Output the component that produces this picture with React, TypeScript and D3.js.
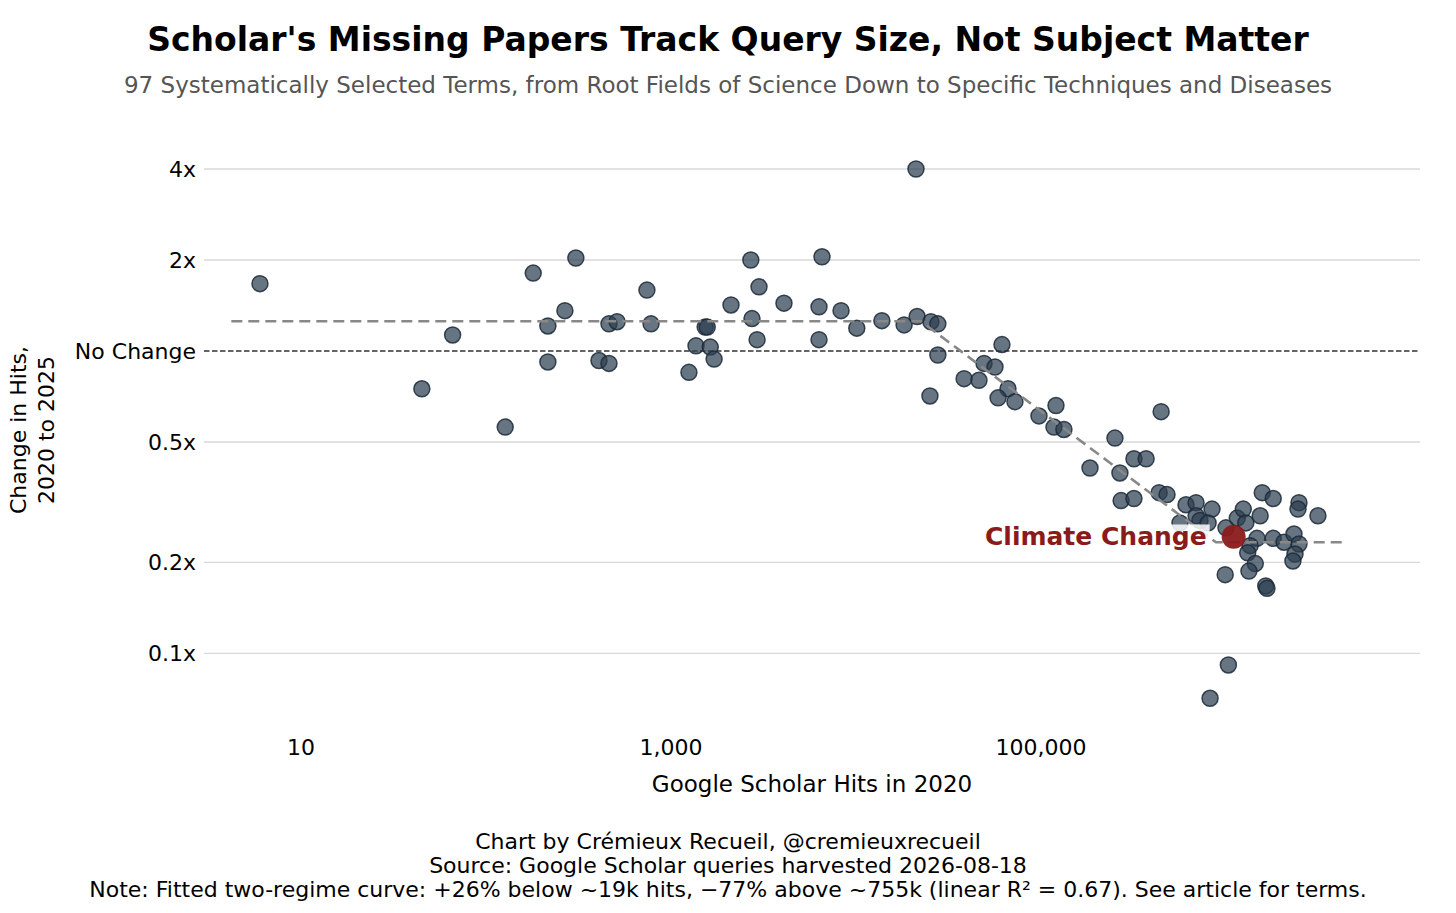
import React, { useRef, useEffect } from 'react'
import * as d3 from 'd3'

// Google Scholar hits in 2020 (x) and ratio of 2025 hits to 2020 hits (y)
const hits2020 = [
  6, 45, 66, 127, 180, 306, 267, 216, 216, 408,
  462, 462, 511, 741, 780, 1250, 1365, 1530, 1570, 1630,
  1710, 2110, 2700, 2740, 2920, 2990, 4080, 6310, 6310, 6550,
  8300, 10100, 13800, 18200, 21100, 21400, 25400, 27700, 27700, 25100,
  38400, 46200, 49200, 56400, 61500, 66300, 58600, 72300, 97500, 120500,
  117500, 133000, 184000, 251000, 267000, 271000, 318000, 318000, 370000, 446000,
  435000, 480000, 608000, 689000, 840000, 689000, 723000, 564000, 800000, 1000000,
  1150000, 1240000, 1280000, 1570000, 1800000, 1530000, 2480000, 2450000, 3140000, 1470000,
  1800000, 2060000, 2330000, 2480000, 2360000, 2300000, 1350000, 1310000, 1440000, 1330000,
  990000, 1640000, 1665000, 1030000, 820000,
]
const changeRatio = [
  1.67, 0.75, 1.13, 0.56, 1.81, 2.03, 1.36, 1.21, 0.92, 0.93,
  0.91, 1.23, 1.25, 1.59, 1.23, 0.85, 1.04, 1.2, 1.2, 1.03,
  0.94, 1.42, 2.0, 1.28, 1.09, 1.63, 1.44, 1.4, 1.09, 2.05,
  1.36, 1.19, 1.26, 1.22, 4.0, 1.3, 1.25, 1.23, 0.97, 0.71,
  0.81, 0.8, 0.91, 0.885, 1.05, 0.75, 0.7, 0.68, 0.61, 0.66,
  0.56, 0.55, 0.41, 0.515, 0.395, 0.32, 0.325, 0.44, 0.44, 0.63,
  0.34, 0.335, 0.31, 0.315, 0.3, 0.285, 0.275, 0.27, 0.27, 0.26,
  0.28, 0.3, 0.27, 0.34, 0.325, 0.285, 0.315, 0.3, 0.285, 0.24,
  0.24, 0.233, 0.248, 0.23, 0.213, 0.202, 0.227, 0.215, 0.198, 0.187,
  0.182, 0.167, 0.164, 0.0915, 0.071,
]

// highlighted term
const highlightLabel = 'Climate Change'
const highlightHits = 1100000
const highlightRatio = 0.243

// two-regime fit (as drawn)
const fitHits = [4.2, 22400, 883000, 4500000]
const fitRatio = [1.255, 1.255, 0.233, 0.233]

// ticks
const xTicks = [10, 1000, 100000]
const xTickLabels = ['10', '1,000', '100,000']
const yTicks = [0.1, 0.2, 0.5, 1, 2, 4]
const yTickLabels = ['0.1x', '0.2x', '0.5x', 'No Change', '2x', '4x']

const title = "Scholar's Missing Papers Track Query Size, Not Subject Matter"
const subtitle =
  '97 Systematically Selected Terms, from Root Fields of Science Down to Specific Techniques and Diseases'
const footerLines = [
  'Chart by Crémieux Recueil, @cremieuxrecueil',
  'Source: Google Scholar queries harvested 2026-08-18',
  'Note: Fitted two-regime curve: +26% below ~19k hits, \u221277% above ~755k (linear R\u00b2 = 0.67). See article for terms.',
]

const WIDTH = 1456
const HEIGHT = 913
const FONT = "'DejaVu Sans', sans-serif"

const App: React.FC = () => {
  const svgRef = useRef<SVGSVGElement>(null)

  useEffect(() => {
    if (!svgRef.current) return
    const svg = d3.select(svgRef.current)
    svg.selectAll('*').remove()

    const plotLeft = 204
    const plotRight = 1420

    // log scales anchored on the tick positions
    const x = d3.scaleLog().domain([10, 100000]).range([301, 1041])
    const y = d3.scaleLog().base(2).domain([1, 4]).range([351, 169])

    svg.append('rect').attr('width', WIDTH).attr('height', HEIGHT).attr('fill', '#fff')

    // title block
    svg
      .append('text')
      .attr('x', WIDTH / 2)
      .attr('y', 51)
      .attr('text-anchor', 'middle')
      .style('font-family', FONT)
      .style('font-weight', 'bold')
      .style('font-size', '33px')
      .style('fill', '#000')
      .text(title)

    svg
      .append('text')
      .attr('x', WIDTH / 2)
      .attr('y', 93)
      .attr('text-anchor', 'middle')
      .style('font-family', FONT)
      .style('font-size', '23px')
      .style('fill', '#555')
      .text(subtitle)

    // horizontal grid + y tick labels
    const g = svg.append('g')
    yTicks.forEach((t, i) => {
      if (t === 1) {
        g.append('line')
          .attr('x1', plotLeft)
          .attr('x2', plotRight)
          .attr('y1', y(t))
          .attr('y2', y(t))
          .attr('stroke', '#333')
          .attr('stroke-width', 1.6)
          .attr('stroke-dasharray', '5.5,2.5')
      } else {
        g.append('line')
          .attr('x1', plotLeft)
          .attr('x2', plotRight)
          .attr('y1', y(t))
          .attr('y2', y(t))
          .attr('stroke', '#d9d9d9')
          .attr('stroke-width', 1.3)
      }
      g.append('text')
        .attr('x', 196)
        .attr('y', y(t))
        .attr('dy', '0.35em')
        .attr('text-anchor', 'end')
        .style('font-family', FONT)
        .style('font-size', '22px')
        .style('fill', '#000')
        .text(yTickLabels[i])
    })

    // x tick labels (no tick marks)
    xTicks.forEach((t, i) => {
      g.append('text')
        .attr('x', x(t))
        .attr('y', 755)
        .attr('text-anchor', 'middle')
        .style('font-family', FONT)
        .style('font-size', '22px')
        .style('fill', '#000')
        .text(xTickLabels[i])
    })

    // axis titles
    g.append('text')
      .attr('x', (plotLeft + plotRight) / 2)
      .attr('y', 792)
      .attr('text-anchor', 'middle')
      .style('font-family', FONT)
      .style('font-size', '23px')
      .style('fill', '#000')
      .text('Google Scholar Hits in 2020')

    const yLab = g
      .append('text')
      .attr('transform', 'translate(0, 430) rotate(-90)')
      .attr('text-anchor', 'middle')
      .style('font-family', FONT)
      .style('font-size', '22px')
      .style('fill', '#000')
    yLab.append('tspan').attr('x', 0).attr('y', 26).text('Change in Hits,')
    yLab.append('tspan').attr('x', 0).attr('y', 54).text('2020 to 2025')

    // scatter points
    const pts = hits2020.map((h, i) => ({ h, r: changeRatio[i] }))
    g.append('g')
      .selectAll('circle')
      .data(pts)
      .enter()
      .append('circle')
      .attr('cx', d => x(d.h))
      .attr('cy', d => y(d.r))
      .attr('r', 8)
      .attr('fill', '#2c3e50')
      .attr('fill-opacity', 0.72)
      .attr('stroke', '#1c2a38')
      .attr('stroke-opacity', 0.85)
      .attr('stroke-width', 1.5)

    // fitted curve
    const fit = fitHits.map((h, i) => [h, fitRatio[i]] as [number, number])
    const line = d3
      .line<[number, number]>()
      .x(d => x(d[0]))
      .y(d => y(d[1]))
    g.append('path')
      .datum(fit)
      .attr('d', line)
      .attr('fill', 'none')
      .attr('stroke', '#888')
      .attr('stroke-width', 2.6)
      .attr('stroke-dasharray', '11,6')

    // highlighted term
    g.append('circle')
      .attr('cx', x(highlightHits))
      .attr('cy', y(highlightRatio))
      .attr('r', 12)
      .attr('fill', '#8b1a1a')
      .attr('fill-opacity', 0.95)

    const labelG = g.append('g')
    const label = labelG
      .append('text')
      .attr('x', x(highlightHits) - 27)
      .attr('y', y(highlightRatio))
      .attr('dy', '0.35em')
      .attr('text-anchor', 'end')
      .style('font-family', FONT)
      .style('font-weight', 'bold')
      .style('font-size', '25px')
      .style('fill', '#8b1a1a')
      .text(highlightLabel)
    const bb = (label.node() as SVGTextElement).getBBox()
    labelG
      .insert('rect', 'text')
      .attr('x', bb.x - 3)
      .attr('y', bb.y + 2)
      .attr('width', bb.width + 6)
      .attr('height', bb.height - 2)
      .attr('fill', '#fff')
      .attr('fill-opacity', 0.85)

    // footer
    footerLines.forEach((t, i) => {
      svg
        .append('text')
        .attr('x', WIDTH / 2)
        .attr('y', 849 + i * 24)
        .attr('text-anchor', 'middle')
        .style('font-family', FONT)
        .style('font-size', '22px')
        .style('fill', '#000')
        .text(t)
    })
  }, [])

  return (
    <svg
      ref={svgRef}
      width={WIDTH}
      height={HEIGHT}
      style={{ position: 'absolute', left: 0, top: 0, display: 'block' }}
    />
  )
}

export default App
